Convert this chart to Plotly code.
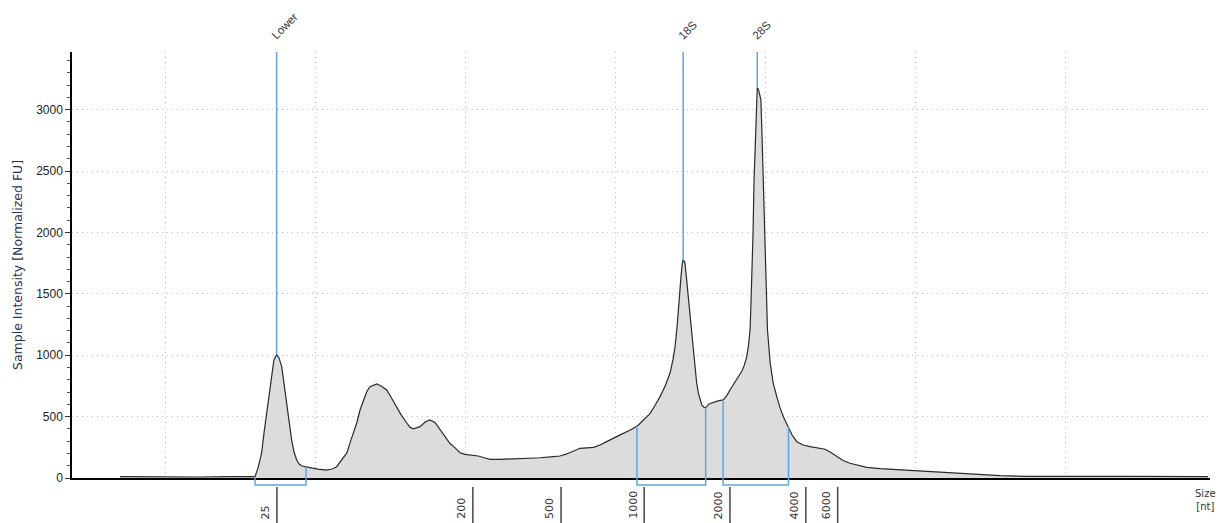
import numpy as np
import plotly.graph_objects as go

# Electropherogram trace: migration time (s) vs. fluorescence (normalized FU)
time_s = [
    18.50, 19.50, 21.17, 22.17, 23.00, 23.10, 23.22, 23.30, 23.39, 23.47,
    23.56, 23.63, 23.72, 23.80, 23.89, 23.97, 24.06, 24.13, 24.22, 24.30,
    24.39, 24.47, 24.56, 24.70, 24.83, 25.10, 25.39, 25.57, 25.72, 25.87,
    26.06, 26.20, 26.39, 26.50, 26.61, 26.72, 26.83, 27.06, 27.20, 27.39,
    27.53, 27.72, 27.87, 28.06, 28.17, 28.28, 28.39, 28.50, 28.67, 28.83,
    29.00, 29.17, 29.33, 29.50, 29.67, 29.83, 30.00, 30.17, 30.44, 30.67,
    30.83, 31.17, 31.50, 31.83, 32.17, 32.50, 32.94, 33.17, 33.39, 33.60,
    33.83, 34.28, 34.50, 34.72, 34.94, 35.17, 35.37, 35.56, 35.78, 35.97,
    36.17, 36.33, 36.50, 36.67, 36.83, 36.93, 37.00, 37.07, 37.11, 37.15,
    37.19, 37.23, 37.26, 37.30, 37.33, 37.38, 37.44, 37.50, 37.56, 37.61,
    37.67, 37.72, 37.78, 37.83, 37.89, 37.97, 38.02, 38.13, 38.28, 38.43,
    38.61, 38.73, 38.83, 39.00, 39.22, 39.30, 39.39, 39.45, 39.50, 39.53,
    39.57, 39.60, 39.63, 39.67, 39.70, 39.72, 39.74, 39.78, 39.83, 39.86,
    39.89, 39.92, 39.94, 39.97, 40.00, 40.03, 40.08, 40.17, 40.27, 40.39,
    40.50, 40.63, 40.78, 40.90, 41.06, 41.27, 41.50, 41.77, 42.00, 42.17,
    42.39, 42.60, 42.83, 43.10, 43.39, 43.83, 44.28, 45.17, 46.06, 47.06,
    47.83, 48.72, 49.83, 50.93, 52.06, 53.72, 54.77,
]
intensity_fu = [
    12, 10, 8, 12, 11, 82, 204, 367, 530, 693,
    856, 962, 1005, 978, 907, 766, 611, 456, 310, 212,
    147, 114, 98, 90, 84, 73, 65, 73, 92, 139,
    204, 310, 448, 554, 636, 701, 744, 766, 750, 717,
    660, 580, 514, 448, 412, 400, 408, 418, 456, 473,
    452, 391, 334, 281, 245, 206, 192, 187, 179, 163,
    152, 152, 155, 157, 161, 165, 174, 179, 196, 220,
    242, 249, 269, 296, 326, 351, 375, 397, 432, 477,
    527, 591, 663, 750, 853, 962, 1070, 1239, 1343, 1484,
    1614, 1728, 1771, 1769, 1750, 1630, 1478, 1321, 1152, 1011,
    880, 774, 690, 636, 595, 575, 573, 603, 617, 628,
    636, 673, 717, 783, 867, 913, 989, 1084, 1207, 1420,
    1700, 2000, 2400, 2750, 3000, 3120, 3180, 3163, 3106, 3082,
    2864, 2592, 2323, 2054, 1834, 1476, 1207, 938, 774, 663,
    571, 489, 418, 350, 296, 269, 255, 245, 234, 212,
    174, 143, 120, 102, 87, 77, 71, 57, 46, 33,
    19, 14, 11, 14, 14, 14, 11,
]

# Identified peaks
peak_names = ["Lower", "18S", "28S"]
peak_times = [23.72, 37.27, 39.74]
peak_heights = [1005, 1771, 3180]

# Integration windows (start, end) for each peak
region_starts = [23.00, 35.73, 38.60]
region_ends = [24.70, 38.02, 40.78]

# Ladder sizes (nt) and their migration times
ladder_sizes = ["25", "200", "500", "1000", "2000", "4000", "6000"]
ladder_times = [23.73, 30.26, 33.20, 35.97, 38.83, 41.36, 42.42]

# Time grid
grid_times = [20, 25, 30, 35, 40, 45, 50]
y_ticks = [0, 500, 1000, 1500, 2000, 2500, 3000]

X_RANGE = [16.9, 54.83]
Y_MAX = 3470

BLUE = "#5aa8e4"
TEXT = "#333333"
FONT = "Liberation Sans, Arial, sans-serif"
WIDE = "DejaVu Sans, sans-serif"
GRID = "#c2c2c2"

fig = go.Figure()
fig.add_trace(go.Scatter(
    x=time_s, y=intensity_fu, mode="lines",
    line=dict(color="#2a2a2a", width=1.2),
    fill="tozeroy", fillcolor="#dcdcdc",
    hoverinfo="skip", showlegend=False,
))

shapes = []
annotations = []

# Peak marker lines and labels
for name, t, h in zip(peak_names, peak_times, peak_heights):
    shapes.append(dict(type="line", xref="x", yref="y", x0=t, x1=t, y0=h, y1=Y_MAX,
                       line=dict(color=BLUE, width=1.5), layer="above"))
    annotations.append(dict(x=t, y=1, xref="x", yref="paper", text=name,
                            showarrow=False, textangle=-45, xanchor="left",
                            yanchor="bottom", xshift=-10, yshift=8,
                            font=dict(family=FONT, size=11.5, color=TEXT)))

# Integration brackets below the baseline
bracket_y = -0.0165
for a, b in zip(region_starts, region_ends):
    va = float(np.interp(a, time_s, intensity_fu)) / Y_MAX
    vb = float(np.interp(b, time_s, intensity_fu)) / Y_MAX
    path = f"M {a},{va} L {a},{bracket_y} L {b},{bracket_y} L {b},{vb}"
    shapes.append(dict(type="path", xref="x", yref="paper", path=path,
                       line=dict(color=BLUE, width=1.5), layer="above"))

# Size ladder ticks under the axis
for s, t in zip(ladder_sizes, ladder_times):
    shapes.append(dict(type="line", xref="x", yref="paper", x0=t, x1=t,
                       y0=-0.021, y1=-0.13, line=dict(color="#444444", width=1.5)))
    annotations.append(dict(x=t, y=-0.101, xref="x", yref="paper", text=s,
                            showarrow=False, textangle=-90, xanchor="right",
                            yanchor="bottom", xshift=-3,
                            font=dict(family=WIDE, size=11, color=TEXT)))

# Axis captions
annotations.append(dict(x=-0.0483, y=0.5, xref="paper", yref="paper",
                        text="Sample Intensity [Normalized FU]", showarrow=False,
                        textangle=-90, xanchor="center", yanchor="middle",
                        font=dict(family=WIDE, size=12.5, color="#1f2f4f")))
annotations.append(dict(x=0.9958, y=-0.052, xref="paper", yref="paper",
                        text="Size<br>[nt]", showarrow=False, xanchor="center",
                        yanchor="middle", align="center",
                        font=dict(family=WIDE, size=10, color=TEXT)))

fig.update_layout(
    width=1220, height=523,
    margin=dict(l=72, r=10, t=52, b=45),
    paper_bgcolor="white", plot_bgcolor="white",
    shapes=shapes, annotations=annotations,
    xaxis=dict(range=X_RANGE, tickvals=grid_times, showticklabels=False, ticks="",
               showgrid=True, gridcolor=GRID, griddash="1px,4px", gridwidth=1,
               showline=True, linecolor="black", linewidth=1.5, zeroline=False),
    yaxis=dict(range=[0, Y_MAX], tickvals=y_ticks, ticks="outside", ticklen=5,
               tickcolor="#333333", tickfont=dict(family=FONT, size=12, color="#222222"),
               minor=dict(dtick=100, tick0=0, ticks="outside", ticklen=3,
                          tickcolor="#555555", showgrid=False),
               showgrid=True, gridcolor=GRID, griddash="1px,4px", gridwidth=1,
               showline=True, linecolor="black", linewidth=1.5, zeroline=False),
)

fig.write_html("out.html")
